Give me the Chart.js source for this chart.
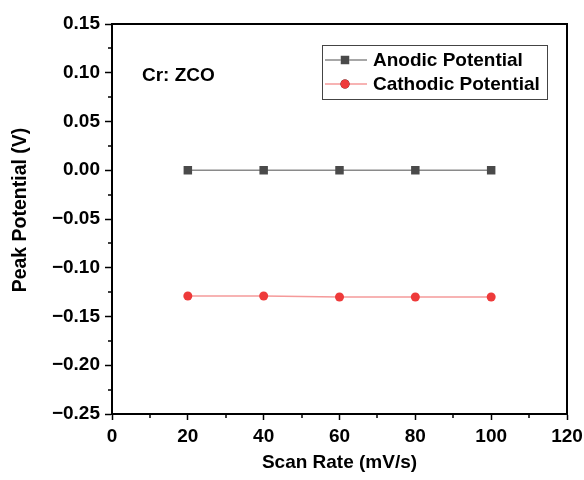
<!DOCTYPE html>
<html lang="en">
<head>
<meta charset="UTF-8">
<title>Peak Potential vs Scan Rate</title>
<script src="https://cdn.jsdelivr.net/npm/chart.js@4.4.0/dist/chart.umd.min.js"></script>
<style>
    html, body { margin: 0; padding: 0; background: #fff; }
    canvas { display: block; }
</style>
</head>
<body>
<canvas id="peakChart" width="584" height="480"></canvas>
<script>
    // scan rates (mV/s) and measured peak potentials (V)
    const scanRates = [20, 40, 60, 80, 100]
    const anodicPotential = [0.000, 0.000, 0.000, 0.000, 0.000]
    const cathodicPotential = [-0.129, -0.129, -0.130, -0.130, -0.130]

    const xTicks = [0, 20, 40, 60, 80, 100, 120]
    const yTicks = [-0.25, -0.20, -0.15, -0.10, -0.05, 0.00, 0.05, 0.10, 0.15]
    const xMinor = [10, 30, 50, 70, 90, 110]
    const yMinor = [-0.225, -0.175, -0.125, -0.075, -0.025, 0.025, 0.075, 0.125]

    const sampleLabel = 'Cr: ZCO'
    const yTitle = 'Peak Potential (V)'
    const FONT = '"Liberation Sans", Arial, sans-serif'

    function toPoints(xs, ys) {
        return xs.map((x, i) => ({ x: x, y: ys[i] }))
    }

    function fmtY(v) {
        if (Math.abs(v) < 1e-9) return '0.00'
        let s = v.toFixed(2)
        return s.replace('-', '\u2212')
    }

    // box around the plot + small minor tick marks
    const framePlugin = {
        id: 'frame',
        afterDraw(chart) {
            const { ctx, chartArea: a } = chart
            const xs = chart.scales.x, ys = chart.scales.y
            ctx.save()
            ctx.strokeStyle = '#000'
            ctx.lineWidth = 2
            ctx.beginPath()
            ctx.moveTo(a.left, a.top)
            ctx.lineTo(a.right, a.top)
            ctx.lineTo(a.right, a.bottom)
            ctx.stroke()

            ctx.lineWidth = 1.5
            ctx.beginPath()
            xMinor.forEach(v => {
                const px = Math.round(xs.getPixelForValue(v))
                ctx.moveTo(px, a.bottom)
                ctx.lineTo(px, a.bottom + 4)
            })
            yMinor.forEach(v => {
                const py = Math.round(ys.getPixelForValue(v))
                ctx.moveTo(a.left, py)
                ctx.lineTo(a.left - 4, py)
            })
            ctx.stroke()

            // y axis title, sits a little above the middle of the axis
            ctx.translate(21, 210)
            ctx.rotate(-Math.PI / 2)
            ctx.fillStyle = '#000'
            ctx.font = 'bold 19.5px ' + FONT
            ctx.textAlign = 'center'
            ctx.textBaseline = 'middle'
            ctx.fillText(yTitle, 0, 0)
            ctx.restore()
        }
    }

    // legend box in the upper right and the sample name
    const legendBoxPlugin = {
        id: 'legendBox',
        afterDraw(chart) {
            const ctx = chart.ctx
            const bx = 322, by = 45, bw = 225, bh = 54
            ctx.save()
            ctx.fillStyle = '#fff'
            ctx.fillRect(bx, by, bw, bh)
            ctx.strokeStyle = '#444'
            ctx.lineWidth = 1
            ctx.strokeRect(bx + 0.5, by + 0.5, bw, bh)

            chart.data.datasets.forEach((ds, i) => {
                const cy = by + 15 + i * 24
                ctx.strokeStyle = ds.borderColor
                ctx.lineWidth = 1.5
                ctx.beginPath()
                ctx.moveTo(bx + 3, cy)
                ctx.lineTo(bx + 45, cy)
                ctx.stroke()
                Chart.helpers.drawPoint(ctx, {
                    pointStyle: ds.pointStyle,
                    radius: ds.pointRadius,
                    borderWidth: 0
                }, bx + 23, cy)
                ctx.fillStyle = ds.pointBackgroundColor
                ctx.fill()
                ctx.fillStyle = '#000'
                ctx.font = 'bold 19px ' + FONT
                ctx.textBaseline = 'middle'
                ctx.textAlign = 'left'
                ctx.fillText(ds.label, bx + 51, cy + 1)
            })

            ctx.font = 'bold 19px ' + FONT
            ctx.fillStyle = '#000'
            ctx.textBaseline = 'middle'
            ctx.fillText(sampleLabel, 142, 76)
            ctx.restore()
        }
    }

    const ctx = document.getElementById('peakChart')
    const chart = new Chart(ctx, {
        type: 'line',
        data: {
            datasets: [{
                label: 'Anodic Potential',
                data: toPoints(scanRates, anodicPotential),
                borderColor: '#8a8a8a',
                borderWidth: 1.5,
                pointStyle: 'rect',
                pointRadius: 6,
                pointBackgroundColor: '#4a4a4a',
                pointBorderWidth: 0
            }, {
                label: 'Cathodic Potential',
                data: toPoints(scanRates, cathodicPotential),
                borderColor: '#f59a9a',
                borderWidth: 1.5,
                pointStyle: 'circle',
                pointRadius: 4.5,
                pointBackgroundColor: '#ee3a3a',
                pointBorderWidth: 0
            }]
        },
        options: {
            responsive: false,
            animation: false,
            layout: { padding: { left: 0, top: 24, right: 17, bottom: 0 } },
            plugins: {
                legend: { display: false },
                tooltip: { enabled: false }
            },
            scales: {
                x: {
                    type: 'linear',
                    min: 0,
                    max: 120,
                    afterFit(scale) {
                        scale.height = 66
                        // let the "120" label run past the edge instead of shrinking the plot
                        scale.paddingRight = 0
                        scale.paddingLeft = 0
                    },
                    afterBuildTicks(scale) { scale.ticks = xTicks.map(v => ({ value: v })) },
                    border: { color: '#000', width: 2 },
                    grid: { drawOnChartArea: false, drawTicks: true, tickLength: 6, tickColor: '#000', tickWidth: 1.5 },
                    ticks: {
                        autoSkip: false,
                        maxRotation: 0,
                        padding: 5,
                        color: '#000',
                        font: { family: FONT, size: 19, weight: 'bold' }
                    },
                    title: {
                        display: true,
                        text: 'Scan Rate (mV/s)',
                        color: '#000',
                        font: { family: FONT, size: 19, weight: 'bold' },
                        padding: { top: 0, bottom: 6 }
                    }
                },
                y: {
                    type: 'linear',
                    min: -0.25,
                    max: 0.15,
                    afterFit(scale) {
                        scale.width = 112
                        scale.paddingTop = 0
                        scale.paddingBottom = 0
                    },
                    afterBuildTicks(scale) { scale.ticks = yTicks.map(v => ({ value: v })) },
                    border: { color: '#000', width: 2 },
                    grid: { drawOnChartArea: false, drawTicks: true, tickLength: 7, tickColor: '#000', tickWidth: 1.5 },
                    ticks: {
                        autoSkip: false,
                        padding: 5,
                        color: '#000',
                        font: { family: FONT, size: 19, weight: 'bold' },
                        callback: v => fmtY(v)
                    },
                    title: { display: false }
                }
            }
        },
        plugins: [framePlugin, legendBoxPlugin]
    })
</script>
</body>
</html>
